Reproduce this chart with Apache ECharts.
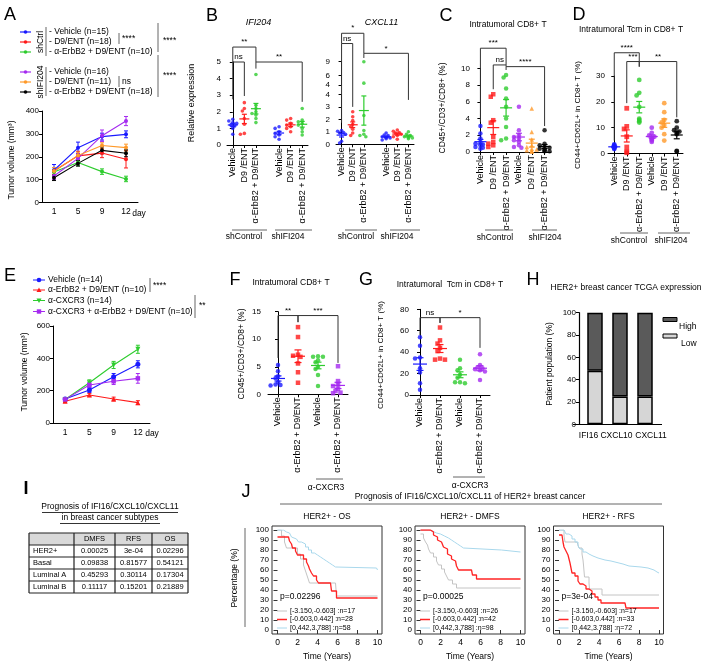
<!DOCTYPE html>
<html><head><meta charset="utf-8">
<script src="https://cdn.jsdelivr.net/npm/echarts@6.0.0/dist/echarts.min.js"></script>
<style>html,body{margin:0;padding:0;background:#fff;}#chart{width:705px;height:665px;}</style>
</head><body><div id="chart"></div>
<script>
// ================= DATA =================
// Panel A : tumor volume (mm3)
const A_days = ['1', '5', '9', '12'];
const A_shCtrl_vehicle = [141, 239, 288, 298];
const A_shCtrl_vehicle_sem = [25, 25, 15, 15];
const A_shCtrl_d9 = [138, 204, 216, 189];
const A_shCtrl_d9_sem = [15, 20, 20, 38];
const A_shCtrl_combo = [133, 175, 135, 103];
const A_shCtrl_combo_sem = [12, 14, 12, 12];
const A_shIFI_vehicle = [116, 193, 292, 356];
const A_shIFI_vehicle_sem = [15, 20, 25, 20];
const A_shIFI_d9 = [138, 205, 249, 240];
const A_shIFI_d9_sem = [15, 15, 12, 15];
const A_shIFI_combo = [108, 171, 228, 215];
const A_shIFI_combo_sem = [12, 12, 15, 15];
const A_legend = ['- Vehicle (n=15)', '- D9/ENT (n=18)', '- α-ErbB2 + D9/ENT (n=10)', '- Vehicle (n=16)', '- D9/ENT (n=11)', '- α-ErbB2 + D9/ENT (n=18)'];

// Panel B : relative expression
const B_cats = ['Vehicle', 'D9 /ENT', 'α-ErbB2 + D9/ENT', '', 'Vehicle', 'D9 /ENT', 'α-ErbB2 + D9/ENT'];
const B_ifi_ctrlVeh = [1.55, 1.45, 1.35, 1.3, 1.2, 1.15, 1.0, 0.65];
const B_ifi_ctrlD9 = [2.55, 2.2, 2.05, 1.6, 1.25, 0.7, 0.65];
const B_ifi_ctrlCombo = [4.25, 2.4, 2.2, 2.0, 1.9, 1.8, 1.6, 1.35];
const B_ifi_shVeh = [1.1, 1.0, 0.8, 0.7, 0.6, 0.5, 0.35];
const B_ifi_shD9 = [1.6, 1.5, 1.3, 1.2, 1.1, 1.0, 0.8];
const B_ifi_shCombo = [2.2, 1.5, 1.4, 1.3, 1.2, 1.0, 0.8, 0.6];
const B_cx_ctrlVeh = [1.1, 1.05, 0.95, 0.9, 0.8, 0.25, 0.1];
const B_cx_ctrlD9 = [2.6, 2.2, 1.9, 1.6, 1.4, 1.2, 0.9, 0.7];
const B_cx_ctrlCombo = [9.0, 4.4, 2.3, 1.1, 0.8, 0.7, 0.6];
const B_cx_shVeh = [0.9, 0.75, 0.7, 0.6, 0.55, 0.5, 0.45, 0.35];
const B_cx_shD9 = [1.15, 1.05, 0.95, 0.9, 0.8, 0.7, 0.6, 0.4];
const B_cx_shCombo = [1.0, 0.8, 0.7, 0.6, 0.55, 0.5, 0.45];
const B_ifi_brackets = [[0, 2, 5.9, 4.95, 5.0, '**'], [0, 1, 5.0, 2.75, 2.95, 'ns'], [2, 6, 5.0, 4.6, 2.6, '**']];
const B_cx_brackets = [[0, 2, 15.1, 12.9, 10.8, '*'], [0, 1, 12.9, -4.1, -0.7, 'ns'], [2, 6, 10.8, 9.8, 0.8, '*']];

// Panel C : CD45+/CD3+/CD8+ (%)
const C_cats = ['Vehicle', 'D9 /ENT', 'α-ErbB2 + D9/ENT', 'Vehicle', 'D9 /ENT', 'α-ErbB2 + D9/ENT'];
const C_ctrlVeh = [3.1, 2.2, 1.6, 1.2, 1.0, 0.9, 0.8, 0.6, 0.5, 0.4];
const C_ctrlD9 = [6.9, 6.6, 3.8, 3.5, 1.8, 1.2, 1.0, 0.8, 0.6];
const C_ctrlCombo = [9.2, 8.9, 7.6, 6.4, 5.4, 4.0, 3.0, 1.6, 1.4];
const C_shVeh = [5.4, 2.6, 2.0, 1.8, 1.6, 1.4, 1.2, 0.8, 0.6, 0.5];
const C_shD9 = [5.2, 2.4, 1.5, 0.8, 0.6, 0.4, 0.3, 0.2, 0.1, 0.1, 0.1];
const C_shCombo = [2.6, 1.0, 0.8, 0.6, 0.5, 0.4, 0.3, 0.2, 0.1, 0.1];
const C_brackets = [[0, 2, 12.4, 3.6, 10.4, '***'], [1, 2, 10.4, 7.5, 10.2, 'ns'], [2, 5, 10.2, 9.8, 3.1, '****']];

// Panel D : CD44+CD62L+ in CD8+ T (%)
const D_ctrlVeh = [3.5, 3.2, 2.8, 2.6, 2.3, 2.0, 1.7];
const D_ctrlD9 = [17.5, 10.5, 9.5, 6.5, 2.5, 0.8, 0.3];
const D_ctrlCombo = [28.5, 23.5, 22.5, 18, 13.5, 13, 12.5, 12];
const D_shVeh = [10, 8, 7, 6.5, 6, 5.5, 5, 4.5];
const D_shD9 = [19.5, 16, 13, 12, 11, 10, 7.5, 5];
const D_shCombo = [12.5, 10, 9, 8.5, 8, 7.5, 1, 0.8];
const D_brackets = [[0, 2, 39, 5, 35.6, '****'], [1, 2, 35.6, 19.5, 33.6, '***'], [2, 5, 35.6, 33.6, 14, '**']];

// Panel E : tumor volume (mm3)
const E_days = ['1', '5', '9', '12'];
const E_vehicle = [148, 204, 286, 363];
const E_vehicle_sem = [10, 15, 20, 22];
const E_combo = [135, 173, 148, 126];
const E_combo_sem = [8, 10, 12, 12];
const E_cxcr3 = [145, 249, 359, 456];
const E_cxcr3_sem = [10, 18, 22, 25];
const E_cxcr3Combo = [146, 235, 258, 276];
const E_cxcr3Combo_sem = [10, 15, 20, 30];
const E_legend = ['Vehicle (n=14)', 'α-ErbB2 + D9/ENT (n=10)', 'α-CXCR3 (n=14)', 'α-CXCR3 + α-ErbB2 + D9/ENT (n=10)'];

// Panels F, G
const FG_cats = ['Vehicle', 'α-ErbB2 + D9/ENT', 'Vehicle', 'α-ErbB2 + D9/ENT'];
const F_veh = [5.3, 4.2, 3.3, 2.9, 2.2, 1.8, 1.7, 1.6];
const F_combo = [12.2, 10.4, 7.2, 7.0, 6.8, 5.6, 4.0, 2.1];
const F_cxVeh = [6.9, 6.8, 6.8, 6.2, 5.8, 5.0, 4.6, 3.5, 1.5];
const F_cxCombo = [5.1, 2.4, 1.8, 1.5, 1.0, 0.6, 0.3, 0.2];
const F_brackets = [[0, 1, 14.3, 6.6, 13.1, '**'], [1, 3, 14.3, 13.1, 5.7, '***']];
const G_veh = [54, 46, 35, 34, 25, 21, 11, 5];
const G_combo = [63, 51, 48, 44, 41, 34, 33, 33];
const G_cxVeh = [33, 25, 23, 19, 16, 12, 12, 11];
const G_cxCombo = [38, 28, 26, 25, 24, 23, 22, 14];
const G_brackets = [[0, 1, 72.2, 56, 67.3, 'ns'], [1, 3, 72.2, 67.3, 44, '*']];

// Panel H : TCGA expression
const H_genes = ['IFI16', 'CXCL10', 'CXCL11'];
const H_low = [48, 25, 25];
const H_high = [52, 75, 75];

// Panel I : table
const I_cols = ['DMFS', 'RFS', 'OS'];
const I_rows = ['HER2+', 'Basal', 'Luminal A', 'Luminal B'];
const I_vals = [['0.00025', '3e-04', '0.02296'], ['0.09838', '0.81577', '0.54121'], ['0.45293', '0.30114', '0.17304'], ['0.11117', '0.15201', '0.21889']];

// Panel J : Kaplan-Meier curves [time (years), percentage]
const J_os_low = [[0,100],[0.4,94],[0.7,88],[0.9,82],[2.0,76],[2.3,71],[2.6,65],[2.8,59],[3.0,53],[3.2,47],[5.8,47],[5.9,34],[10,34]];
const J_os_mid = [[0,93],[1.1,93],[1.2,89],[1.4,86],[1.5,82],[1.8,79],[2.0,75],[2.6,71],[2.9,68],[3.1,64],[3.2,61],[3.4,57],[3.6,54],[3.9,50],[4.1,47],[5.3,47],[5.4,39],[5.9,32],[10,32]];
const J_os_high = [[0,100],[0.6,98],[0.9,97],[1.2,95],[1.4,93],[1.6,91],[1.9,89],[2.1,88],[2.4,86],[2.8,83],[3.1,80],[3.4,77],[3.7,75],[4.0,73],[4.3,71],[4.6,69],[4.9,67],[5.2,65],[5.5,63],[5.8,62],[9.9,62],[10,60]];
const J_dmfs_low = [[0,96],[0.3,92],[0.5,88],[0.7,85],[0.8,81],[1.0,77],[1.3,73],[1.6,69],[1.8,65],[2.1,61],[2.4,58],[2.6,54],[2.8,50],[3.2,46],[3.6,42],[10,42]];
const J_dmfs_mid = [[0,100],[1.0,98],[1.3,95],[1.5,93],[1.7,90],[1.9,88],[2.1,86],[2.3,83],[2.5,81],[2.7,76],[2.9,74],[3.1,71],[3.3,69],[3.5,67],[3.6,64],[3.8,60],[5.1,60],[5.2,55],[5.6,51],[10,51]];
const J_dmfs_high = [[0,100],[0.8,99],[1.2,97],[1.6,96],[2.0,94],[2.4,92],[2.8,90],[3.1,88],[3.4,86],[3.7,84],[4.0,82],[4.3,80],[8.1,80],[8.2,78],[10,78]];
const J_rfs_low = [[0,100],[0.5,94],[0.6,88],[1.8,88],[2.0,82],[2.3,76],[2.4,70],[2.45,65],[2.5,59],[2.55,53],[3.0,47],[3.05,41],[4.3,35],[10,35]];
const J_rfs_mid = [[0,95],[0.3,93],[0.4,88],[0.5,83],[0.7,79],[0.9,75],[1.0,71],[1.1,67],[1.2,62],[1.3,57],[1.6,54],[1.9,49],[2.1,46],[2.4,44],[2.7,41],[3.0,39],[3.3,36],[3.6,33],[3.9,30],[4.2,27],[6.6,27],[6.7,22],[10,22]];
const J_rfs_high = [[0,100],[0.5,98],[0.7,96],[1.0,94],[1.3,91],[1.6,88],[1.9,84],[2.1,81],[2.4,78],[2.7,76],[3.0,74],[3.4,72],[3.9,70],[4.6,69],[5.2,68],[5.6,66],[6.4,64],[7.0,63],[8.2,62],[8.9,60],[9.5,58],[9.8,57],[10,57]];
const J_os_legend = ['[-3.150,-0.603] :n=17', '[-0.603,0.442] :n=28', '[0.442,3.788] :n=58'];
const J_dmfs_legend = ['[-3.150,-0.603] :n=26', '[-0.603,0.442] :n=42', '[0.442,3.788] :n=98'];
const J_rfs_legend = ['[-3.150,-0.603] :n=17', '[-0.603,0.442] :n=33', '[0.442,3.788] :n=72'];

// ================= BUILD =================
const F = '"Liberation Sans", Arial, Helvetica, sans-serif';
const BLUE = '#1a1aff', RED = '#ff1a1a', GREEN = '#2ecc2e', PURPLE = '#a52bf0', ORANGE = '#ff9a2a', BLACK = '#000000';
const KGRAY = '#c4c4c4', KRED = '#ff2424', KBLUE = '#a9d8ec';
const grids = [], xAxis = [], yAxis = [], series = [], G = [];
const ROT = Math.PI / 2;

function T(x, y, text, o) { o = o || {}; G.push({ type: 'text', x: x, y: y, rotation: o.rot || 0, silent: true, z: 50,
  style: { text: text, fontFamily: F, fontSize: o.size || 9, fontStyle: o.italic ? 'italic' : 'normal', fontWeight: o.bold ? 'bold' : 'normal',
    fill: o.color || '#000', align: o.align || 'center', verticalAlign: o.valign || 'middle' } }); }
function PL(pts, o) { o = o || {}; G.push({ type: 'polyline', silent: true, z: 50, shape: { points: pts }, style: { stroke: o.color || '#000', lineWidth: o.w || 1, fill: null } }); }
function RC(x, y, w, h, o) { o = o || {}; G.push({ type: 'rect', silent: true, z: o.z || 40, shape: { x: x, y: y, width: w, height: h }, style: { fill: o.fill || 'none', stroke: o.stroke || null, lineWidth: o.w || 1 } }); }
function CI(x, y, r, color) { G.push({ type: 'circle', silent: true, z: 51, shape: { cx: x, cy: y, r: r }, style: { fill: color } }); }
function PG(pts, color) { G.push({ type: 'polygon', silent: true, z: 51, shape: { points: pts }, style: { fill: color } }); }

function meanSem(v) { const n = v.length, m = v.reduce((a, b) => a + b, 0) / n;
  const sd = Math.sqrt(v.reduce((a, b) => a + (b - m) * (b - m), 0) / (n - 1)); return [m, sd / Math.sqrt(n)]; }

// deterministic beeswarm layout (pixel offsets -> category units)
function swarm(vals, pxY, pxX, d) {
  const idx = vals.map((v, i) => i).sort((a, b) => vals[b] - vals[a]);
  const placed = [], off = new Array(vals.length).fill(0);
  const minD = d * 0.72, step = d * 0.55, maxOff = pxX * 0.42;
  idx.forEach(i => { const y = vals[i] * pxY; let best = 0;
    for (let k = 0; k < 40; k++) { const m = k === 0 ? 0 : ((k % 2) ? -(k + 1) / 2 : k / 2); const x = m * step;
      if (Math.abs(x) > maxOff) continue;
      if (placed.every(q => Math.hypot(q.x - x, q.y - y) >= minD)) { best = x; break; } }
    placed.push({ x: best, y: y }); off[i] = best / pxX; });
  return off;
}

function errSeries(xi, yi, vals, errs, color) {
  return { type: 'custom', xAxisIndex: xi, yAxisIndex: yi, silent: true, z: 2, data: vals.map((v, i) => [i, v, errs[i]]),
    renderItem: function (params, api) { const i = api.value(0), v = api.value(1), e = api.value(2);
      const t = api.coord([i, v + e]), b = api.coord([i, v - e]), cw = 2;
      return { type: 'group', children: [
        { type: 'line', shape: { x1: t[0], y1: t[1], x2: b[0], y2: b[1] }, style: { stroke: color, lineWidth: 1 } },
        { type: 'line', shape: { x1: t[0] - cw, y1: t[1], x2: t[0] + cw, y2: t[1] }, style: { stroke: color, lineWidth: 1 } },
        { type: 'line', shape: { x1: b[0] - cw, y1: b[1], x2: b[0] + cw, y2: b[1] }, style: { stroke: color, lineWidth: 1 } }] }; } };
}

function linePanel(p) {
  const gi = grids.push({ left: p.left, top: p.top, width: p.width, height: p.height }) - 1;
  const xi = xAxis.push({ type: 'category', gridIndex: gi, data: p.days, boundaryGap: true,
    axisLine: { lineStyle: { color: '#000', width: 1 } }, axisTick: { alignWithLabel: true, length: 3, lineStyle: { color: '#000' } },
    axisLabel: { fontFamily: F, fontSize: 8.5, color: '#000', margin: 5 }, splitLine: { show: false } }) - 1;
  const yi = yAxis.push({ type: 'value', gridIndex: gi, min: 0, max: p.ymax, interval: p.yint,
    axisLine: { show: true, lineStyle: { color: '#000', width: 1 } }, axisTick: { show: true, length: 3, lineStyle: { color: '#000' } },
    axisLabel: { fontFamily: F, fontSize: 8, color: '#000', margin: 3 }, splitLine: { show: false } }) - 1;
  p.lines.forEach(l => {
    series.push({ type: 'line', xAxisIndex: xi, yAxisIndex: yi, data: l.vals, symbol: l.sym || 'circle', symbolSize: l.size || 4,
      itemStyle: { color: l.color }, lineStyle: { color: l.color, width: 1.1 }, silent: true, z: 3 });
    series.push(errSeries(xi, yi, l.vals, l.err, l.color));
  });
}

function meanSeries(xv, yi, i, m, s, color, mh, ch) {
  return { type: 'custom', xAxisIndex: xv, yAxisIndex: yi, silent: true, z: 4, data: [[i, m, s]],
    renderItem: function (params, api) { const x = api.value(0), mm = api.value(1), ss = api.value(2);
      const c = api.coord([x, mm]), t = api.coord([x, mm + ss]), b = api.coord([x, Math.max(0, mm - ss)]);
      const st = () => ({ stroke: color, lineWidth: 1.2 });
      return { type: 'group', children: [
        { type: 'line', shape: { x1: c[0] - mh, y1: c[1], x2: c[0] + mh, y2: c[1] }, style: st() },
        { type: 'line', shape: { x1: c[0], y1: t[1], x2: c[0], y2: b[1] }, style: st() },
        { type: 'line', shape: { x1: c[0] - ch, y1: t[1], x2: c[0] + ch, y2: t[1] }, style: st() },
        { type: 'line', shape: { x1: c[0] - ch, y1: b[1], x2: c[0] + ch, y2: b[1] }, style: st() }] }; } };
}

function bracketSeries(xv, yi, br, fs) {
  return { type: 'custom', xAxisIndex: xv, yAxisIndex: yi, silent: true, z: 5, clip: false, data: br.map(b => [b[0], b[2]]),
    renderItem: function (params, api) { const b = br[params.dataIndex];
      const a = api.coord([b[0], b[3]]), t1 = api.coord([b[0], b[2]]), t2 = api.coord([b[1], b[2]]), z = api.coord([b[1], b[4]]);
      return { type: 'group', children: [
        { type: 'polyline', shape: { points: [a, t1, t2, z] }, style: { stroke: '#333', lineWidth: 1, fill: null } },
        { type: 'text', x: (t1[0] + t2[0]) / 2, y: t1[1] - 1, style: { text: b[5], fontFamily: F, fontSize: fs, fill: '#000', align: 'center', verticalAlign: 'bottom' } }] }; } };
}

function dotPanel(p) {
  const gi = grids.push({ left: p.left, top: p.top, width: p.width, height: p.height }) - 1;
  const n = p.cats.length;
  xAxis.push({ type: 'category', gridIndex: gi, data: p.cats, boundaryGap: true, show: !p.noX,
    axisLine: { show: true, lineStyle: { color: '#000', width: 1 } },
    axisTick: { show: true, alignWithLabel: true, length: 3, interval: function (i) { return p.cats[i] !== ''; }, lineStyle: { color: '#000' } },
    axisLabel: { interval: 0, rotate: 90, fontFamily: F, fontSize: 9, color: '#000', margin: 3 }, splitLine: { show: false } });
  const xv = xAxis.push({ type: 'value', gridIndex: gi, min: -0.5, max: n - 0.5, show: false, splitLine: { show: false } }) - 1;
  const yAx = { type: 'value', gridIndex: gi, min: p.ymin, max: p.ymax, interval: p.yint, offset: p.yoff || 0,
    axisLine: { show: true, lineStyle: { color: '#000', width: 1 } }, axisTick: { show: true, length: 3, lineStyle: { color: '#000' } },
    axisLabel: { fontFamily: F, fontSize: 8, color: '#000', margin: 3 }, splitLine: { show: false } };
  if (p.yticks) { yAx.axisTick.customValues = p.yticks; yAx.axisLabel.customValues = p.yticks; }
  const yi = yAxis.push(yAx) - 1;
  const pxY = p.height / (p.ymax - p.ymin), pxX = p.width / n;
  const lo = p.vlo === undefined ? -Infinity : p.vlo, hi = p.vhi === undefined ? Infinity : p.vhi;
  p.groups.forEach(g => {
    const vals = g.vals.filter(v => v >= lo && v < hi);
    const off = swarm(vals, pxY, pxX, p.dot);
    series.push({ type: 'scatter', xAxisIndex: xv, yAxisIndex: yi, data: vals.map((v, k) => [g.i + off[k], v]),
      symbol: g.sym || 'circle', symbolSize: p.dot, itemStyle: { color: g.color }, silent: true, z: 3 });
    if (!p.noMean) { const ms = meanSem(g.vals); series.push(meanSeries(xv, yi, g.i, ms[0], ms[1], g.color, p.mh, p.ch)); }
  });
  if (p.brackets) series.push(bracketSeries(xv, yi, p.brackets, p.bfs || 8));
}

function kmPanel(p) {
  const bx = p.box[0], by = p.box[1], bw = 110, bh = 108;
  const gi = grids.push({ left: bx + 5.5, top: by + 4, width: 100, height: 100 }) - 1;
  const xi = xAxis.push({ type: 'value', gridIndex: gi, min: 0, max: 10, interval: 2, offset: 4,
    axisLine: { show: false }, axisTick: { show: true, length: 4, lineStyle: { color: '#333' } },
    axisLabel: { fontFamily: F, fontSize: 8.5, color: '#000', margin: 4 }, splitLine: { show: false } }) - 1;
  const yi = yAxis.push({ type: 'value', gridIndex: gi, min: 0, max: 100, interval: 10, offset: 5.5,
    axisLine: { show: false }, axisTick: { show: true, length: 4, lineStyle: { color: '#333' } },
    axisLabel: { fontFamily: F, fontSize: 8, color: '#000', margin: 3 }, splitLine: { show: false } }) - 1;
  p.curves.forEach(c => series.push({ type: 'line', xAxisIndex: xi, yAxisIndex: yi, data: c.d, step: 'end', symbol: 'none',
    lineStyle: { color: c.c, width: c.w }, silent: true, z: c.z }));
  RC(bx, by, bw, bh, { stroke: '#333', w: 1 });
  T(bx + bw / 2, by - 9, p.title, { size: 8.5 });
  T(bx + bw / 2, by + bh + 23, 'Time (Years)', { size: 8.5 });
  T(bx + 8, by + 71, p.pval, { size: 8.5, align: 'left' });
  const cols = [KGRAY, KRED, KBLUE], lw = [1, 1.5, 1];
  p.legend.forEach((s, k) => { const yy = by + 85 + k * 8.5; PL([[bx + 5, yy], [bx + 15, yy]], { color: cols[k], w: lw[k] });
    T(bx + 18, yy, s, { size: 7, align: 'left' }); });
}

// ---------- Panel A ----------
T(10, 15, 'A', { size: 18 });
const A_colors = [BLUE, RED, GREEN, PURPLE, ORANGE, BLACK];
const A_rowsY = [32, 42, 52, 72, 82, 92];
A_legend.forEach((s, k) => { PL([[20, A_rowsY[k]], [31, A_rowsY[k]]], { color: A_colors[k], w: 1.2 }); CI(25.5, A_rowsY[k], 1.8, A_colors[k]);
  T(49, A_rowsY[k], s, { size: 8.5, align: 'left' }); });
T(40.5, 42, 'shCtrl', { size: 8.5, rot: ROT });
T(40.5, 82, 'shIFI204', { size: 8.5, rot: ROT });
PL([[46, 27], [46, 56]], { color: '#666' }); PL([[46, 67], [46, 96]], { color: '#666' });
PL([[119, 33], [119, 44]], { color: '#666' }); T(122, 39, '****', { size: 8.5, align: 'left' });
PL([[119, 76], [119, 87]], { color: '#666' }); T(122, 82, 'ns', { size: 8.5, align: 'left' });
PL([[158, 23], [158, 52]], { color: '#666' }); T(163, 41, '****', { size: 8.5, align: 'left' });
PL([[158, 55], [158, 97]], { color: '#666' }); T(163, 76, '****', { size: 8.5, align: 'left' });
linePanel({ left: 42, top: 111, width: 96, height: 91.5, days: A_days, ymax: 400, yint: 100, lines: [
  { vals: A_shCtrl_vehicle, err: A_shCtrl_vehicle_sem, color: BLUE },
  { vals: A_shCtrl_d9, err: A_shCtrl_d9_sem, color: RED },
  { vals: A_shCtrl_combo, err: A_shCtrl_combo_sem, color: GREEN },
  { vals: A_shIFI_vehicle, err: A_shIFI_vehicle_sem, color: PURPLE },
  { vals: A_shIFI_d9, err: A_shIFI_d9_sem, color: ORANGE },
  { vals: A_shIFI_combo, err: A_shIFI_combo_sem, color: BLACK }] });
T(139, 214, 'day', { size: 8.5 });
T(12, 160, 'Tumor volume (mm³)', { size: 8.5, rot: ROT });

// ---------- Panel B ----------
T(212, 16, 'B', { size: 18 });
T(258.5, 22, 'IFI204', { size: 9, italic: true });
T(381.5, 22, 'CXCL11', { size: 9, italic: true });
T(192, 103, 'Relative expression', { size: 9, rot: ROT });
dotPanel({ left: 227, top: 62, width: 81, height: 83, cats: B_cats, ymin: 0, ymax: 5, yint: 1, yoff: 3, dot: 3.6, mh: 5, ch: 2.5,
  brackets: B_ifi_brackets, bfs: 8, groups: [
    { i: 0, vals: B_ifi_ctrlVeh, color: BLUE }, { i: 1, vals: B_ifi_ctrlD9, color: RED }, { i: 2, vals: B_ifi_ctrlCombo, color: GREEN },
    { i: 4, vals: B_ifi_shVeh, color: BLUE }, { i: 5, vals: B_ifi_shD9, color: RED }, { i: 6, vals: B_ifi_shCombo, color: GREEN }] });
const B_cx_groups = [
  { i: 0, vals: B_cx_ctrlVeh, color: BLUE }, { i: 1, vals: B_cx_ctrlD9, color: RED }, { i: 2, vals: B_cx_ctrlCombo, color: GREEN },
  { i: 4, vals: B_cx_shVeh, color: BLUE }, { i: 5, vals: B_cx_shD9, color: RED }, { i: 6, vals: B_cx_shCombo, color: GREEN }];
dotPanel({ left: 336, top: 94.3, width: 78, height: 50, cats: B_cats, ymin: 0, ymax: 4, yint: 1, yoff: 3, dot: 3.6, mh: 5, ch: 2.5,
  vhi: 4.2, groups: B_cx_groups });
dotPanel({ left: 336, top: 61.7, width: 78, height: 23.3, cats: B_cats, ymin: 4, ymax: 9, yint: 1, yticks: [4, 6, 9], yoff: 3, dot: 3.6,
  noX: true, noMean: true, vlo: 4.2, brackets: B_cx_brackets, bfs: 8, groups: B_cx_groups });
T(244, 237, 'shControl', { size: 8.5 }); PL([[232, 230], [267, 230]], { color: '#666' });
T(288, 237, 'shIFI204', { size: 8.5 }); PL([[275, 230], [312, 230]], { color: '#666' });
T(356, 237, 'shControl', { size: 8.5 }); PL([[345, 230], [377, 230]], { color: '#666' });
T(397, 237, 'shIFI204', { size: 8.5 }); PL([[390, 230], [420, 230]], { color: '#666' });

// ---------- Panel C ----------
T(446, 16, 'C', { size: 18 });
T(508, 25, 'Intratumoral CD8+ T', { size: 8.5 });
T(443, 108, 'CD45+/CD3+/CD8+ (%)', { size: 8.5, rot: ROT });
dotPanel({ left: 474, top: 68.3, width: 77, height: 83.7, cats: C_cats, ymin: 0, ymax: 10, yint: 2, yoff: 1, dot: 4.5, mh: 6, ch: 3,
  brackets: C_brackets, bfs: 8, groups: [
    { i: 0, vals: C_ctrlVeh, color: BLUE }, { i: 1, vals: C_ctrlD9, color: RED, sym: 'rect' }, { i: 2, vals: C_ctrlCombo, color: GREEN },
    { i: 3, vals: C_shVeh, color: PURPLE }, { i: 4, vals: C_shD9, color: ORANGE, sym: 'triangle' }, { i: 5, vals: C_shCombo, color: BLACK }] });
T(495, 238, 'shControl', { size: 8.5 }); PL([[485, 230], [513, 230]], { color: '#666' });
T(545, 238, 'shIFI204', { size: 8.5 }); PL([[532, 230], [557, 230]], { color: '#666' });

// ---------- Panel D ----------
T(579, 15, 'D', { size: 18 });
T(631, 30, 'Intratumoral Tcm in CD8+ T', { size: 8.5 });
T(578, 115, 'CD44+CD62L+ in CD8+ T (%)', { size: 8, rot: ROT });
dotPanel({ left: 608, top: 76, width: 75, height: 77.5, cats: C_cats, ymin: 0, ymax: 30, yint: 10, yoff: 0, dot: 4.8, mh: 6, ch: 3,
  brackets: D_brackets, bfs: 8, groups: [
    { i: 0, vals: D_ctrlVeh, color: BLUE }, { i: 1, vals: D_ctrlD9, color: RED, sym: 'rect' }, { i: 2, vals: D_ctrlCombo, color: GREEN },
    { i: 3, vals: D_shVeh, color: PURPLE }, { i: 4, vals: D_shD9, color: ORANGE }, { i: 5, vals: D_shCombo, color: BLACK }] });
T(629, 241, 'shControl', { size: 8.5 }); PL([[620, 233], [648, 233]], { color: '#666' });
T(671, 241, 'shIFI204', { size: 8.5 }); PL([[658, 233], [690, 233]], { color: '#666' });

// ---------- Panel E ----------
T(10, 276, 'E', { size: 18 });
const E_colors = [BLUE, RED, GREEN, PURPLE];
const E_rowsY = [280, 290, 300.5, 311.5];
E_legend.forEach((s, k) => { const y = E_rowsY[k]; PL([[33, y], [45, y]], { color: E_colors[k], w: 1 });
  if (k === 0) CI(39, y, 2.3, BLUE);
  else if (k === 1) PG([[39, y - 2.5], [41.5, y + 2], [36.5, y + 2]], RED);
  else if (k === 2) PG([[39, y + 2.5], [41.5, y - 2], [36.5, y - 2]], GREEN);
  else RC(36.8, y - 2.2, 4.4, 4.4, { fill: PURPLE, z: 51 });
  T(48, y, s, { size: 8.5, align: 'left' }); });
PL([[150, 278], [150, 292]], { color: '#666' }); T(153, 286, '****', { size: 8.5, align: 'left' });
PL([[195, 295], [195, 318]], { color: '#666' }); T(199, 306, '**', { size: 8.5, align: 'left' });
linePanel({ left: 53, top: 326, width: 97, height: 97, days: E_days, ymax: 600, yint: 200, lines: [
  { vals: E_vehicle, err: E_vehicle_sem, color: BLUE, sym: 'circle', size: 5 },
  { vals: E_combo, err: E_combo_sem, color: RED, sym: 'triangle', size: 5 },
  { vals: E_cxcr3, err: E_cxcr3_sem, color: GREEN, sym: 'path://M0,0 L10,0 L5,9 Z', size: 5 },
  { vals: E_cxcr3Combo, err: E_cxcr3Combo_sem, color: PURPLE, sym: 'rect', size: 4.5 }] });
T(152, 434, 'day', { size: 8.5 });
T(25, 372, 'Tumor volume (mm³)', { size: 8.5, rot: ROT });

// ---------- Panel F ----------
T(235, 280, 'F', { size: 18 });
T(291, 283, 'Intratumoral CD8+ T', { size: 8.5 });
T(242, 354, 'CD45+/CD3+/CD8+ (%)', { size: 8.5, rot: ROT });
dotPanel({ left: 268, top: 311.7, width: 80, height: 82.6, cats: FG_cats, ymin: 0, ymax: 15, yint: 5, yoff: 4, dot: 4.5, mh: 7, ch: 3.5,
  brackets: F_brackets, bfs: 8, groups: [
    { i: 0, vals: F_veh, color: BLUE }, { i: 1, vals: F_combo, color: RED, sym: 'rect' },
    { i: 2, vals: F_cxVeh, color: GREEN }, { i: 3, vals: F_cxCombo, color: PURPLE, sym: 'rect' }] });
T(326, 488, 'α-CXCR3', { size: 8.5 }); PL([[316, 479], [343, 479]], { color: '#666' });

// ---------- Panel G ----------
T(366, 280, 'G', { size: 18 });
T(450, 285, 'Intratumoral  Tcm in CD8+ T', { size: 8.5 });
T(381, 355, 'CD44+CD62L+ in CD8+ T (%)', { size: 8, rot: ROT });
dotPanel({ left: 410, top: 309.3, width: 80, height: 85.7, cats: FG_cats, ymin: 0, ymax: 80, yint: 20, yoff: -2, dot: 4.5, mh: 7, ch: 3.5,
  brackets: G_brackets, bfs: 8, groups: [
    { i: 0, vals: G_veh, color: BLUE }, { i: 1, vals: G_combo, color: RED, sym: 'rect' },
    { i: 2, vals: G_cxVeh, color: GREEN }, { i: 3, vals: G_cxCombo, color: PURPLE }] });
T(470, 486, 'α-CXCR3', { size: 8.5 }); PL([[453, 477], [485, 477]], { color: '#666' });

// ---------- Panel H ----------
T(533, 280, 'H', { size: 18 });
T(626, 288, 'HER2+ breast cancer TCGA expression', { size: 8.5 });
T(550, 364, 'Patient population (%)', { size: 8.5, rot: ROT });
(function () {
  const gi = grids.push({ left: 582.5, top: 312.7, width: 75, height: 111.6 }) - 1;
  const xi = xAxis.push({ type: 'category', gridIndex: gi, data: H_genes, axisLine: { show: false },
    axisTick: { alignWithLabel: true, length: 3, lineStyle: { color: '#000' } }, axisLabel: { show: false } }) - 1;
  const yi = yAxis.push({ type: 'value', gridIndex: gi, min: 0, max: 100, interval: 20, offset: 3.5,
    axisLine: { show: true, lineStyle: { color: '#000', width: 1.2 } }, axisTick: { show: true, length: 3, lineStyle: { color: '#000' } },
    axisLabel: { fontFamily: F, fontSize: 8, color: '#000', margin: 3 }, splitLine: { show: false } }) - 1;
  series.push({ type: 'bar', xAxisIndex: xi, yAxisIndex: yi, stack: 'h', data: H_low, barWidth: 15.5, silent: true,
    itemStyle: { color: '#d6d6d6', borderColor: '#000', borderWidth: 1.5 } });
  series.push({ type: 'bar', xAxisIndex: xi, yAxisIndex: yi, stack: 'h', data: H_high, barWidth: 15.5, silent: true,
    itemStyle: { color: '#5a5a5a', borderColor: '#000', borderWidth: 1.5 } });
})();
PL([[573, 424.5], [662, 424.5]], { w: 1.2 });
[588.5, 616.5, 651].forEach((x, k) => T(x, 436, H_genes[k], { size: 8.5 }));
RC(663, 317.5, 14, 4, { fill: '#5a5a5a', stroke: '#000', w: 1 }); T(679, 327, 'High', { size: 8.5, align: 'left' });
RC(663, 334, 14, 4, { fill: '#d6d6d6', stroke: '#000', w: 1 }); T(681, 344, 'Low', { size: 8.5, align: 'left' });

// ---------- Panel I ----------
T(26, 489, 'I', { size: 18, bold: true });
T(110, 507, 'Prognosis of IFI16/CXCL10/CXCL11', { size: 8.5 }); PL([[42, 512.5], [178, 512.5]], { w: 0.8 });
T(110, 518, 'in breast cancer subtypes', { size: 8.5 }); PL([[60, 523.5], [160, 523.5]], { w: 0.8 });
(function () {
  const tx = [29, 74, 115, 152, 188], ty = 533, rh = 12;
  RC(tx[0], ty, tx[4] - tx[0], rh, { fill: '#d9d9d9', z: 39 });
  for (let r = 0; r <= 5; r++) PL([[tx[0], ty + r * rh], [tx[4], ty + r * rh]], { w: 1.2, color: '#222' });
  tx.forEach(x => PL([[x, ty], [x, ty + 5 * rh]], { w: 1.2, color: '#222' }));
  I_cols.forEach((c, k) => T((tx[k + 1] + tx[k + 2]) / 2, ty + rh / 2, c, { size: 7.5 }));
  I_rows.forEach((r, i) => { T(tx[0] + 4, ty + (i + 1.5) * rh, r, { size: 7.5, align: 'left' });
    I_vals[i].forEach((v, k) => T((tx[k + 1] + tx[k + 2]) / 2, ty + (i + 1.5) * rh, v, { size: 7.5 })); });
})();

// ---------- Panel J ----------
T(246, 492, 'J', { size: 18 });
T(470, 497, 'Prognosis of IFI16/CXCL10/CXCL11 of HER2+ breast cancer', { size: 8.5 });
PL([[280, 504], [662, 504]], { color: '#666' });
PL([[245, 528], [245, 627]], { color: '#666' });
T(235, 578, 'Percentage (%)', { size: 8.5, rot: ROT });
kmPanel({ box: [272, 526], title: 'HER2+ - OS', pval: 'p=0.02296', legend: J_os_legend, curves: [
  { d: J_os_low, c: KGRAY, w: 1, z: 3 }, { d: J_os_high, c: KBLUE, w: 1, z: 3 }, { d: J_os_mid, c: KRED, w: 1.3, z: 4 }] });
kmPanel({ box: [415, 526], title: 'HER2+ - DMFS', pval: 'p=0.00025', legend: J_dmfs_legend, curves: [
  { d: J_dmfs_low, c: KGRAY, w: 1, z: 3 }, { d: J_dmfs_high, c: KBLUE, w: 1, z: 3 }, { d: J_dmfs_mid, c: KRED, w: 1.3, z: 4 }] });
kmPanel({ box: [553.5, 526], title: 'HER2+ - RFS', pval: 'p=3e-04', legend: J_rfs_legend, curves: [
  { d: J_rfs_low, c: KGRAY, w: 1, z: 3 }, { d: J_rfs_high, c: KBLUE, w: 1, z: 3 }, { d: J_rfs_mid, c: KRED, w: 1.3, z: 4 }] });

const chart = echarts.init(document.getElementById('chart'), null, { renderer: 'canvas', width: 705, height: 665 });
chart.setOption({ animation: false, backgroundColor: '#fff', grid: grids, xAxis: xAxis, yAxis: yAxis, series: series, graphic: { elements: G } });
</script></body></html>
